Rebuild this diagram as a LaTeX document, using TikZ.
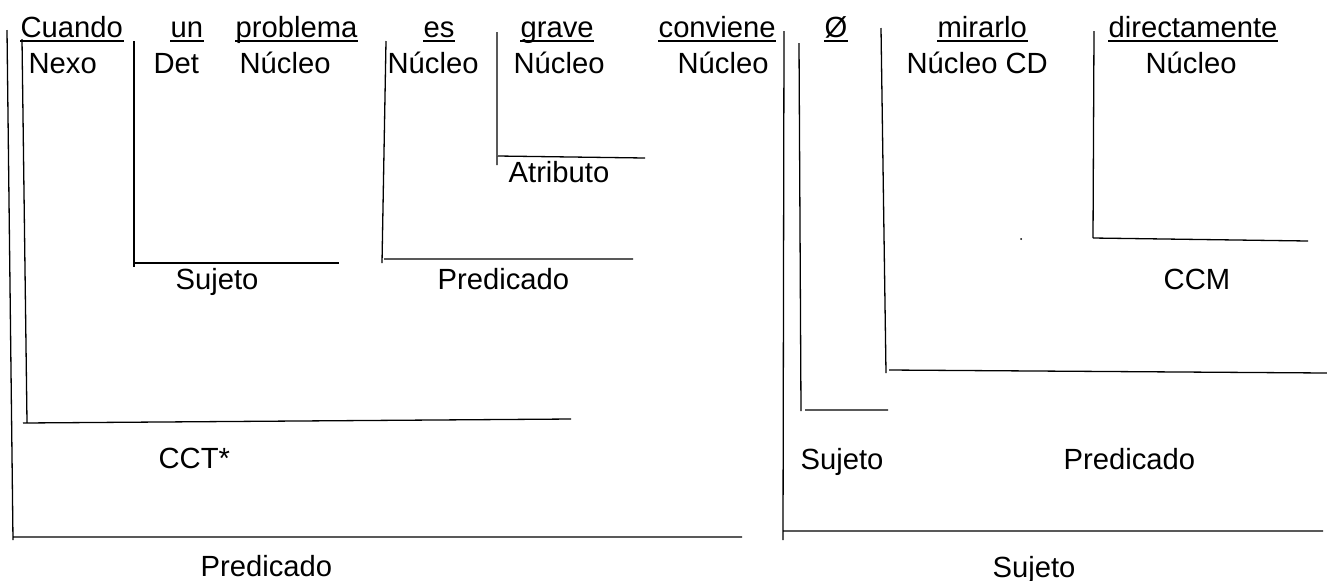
\documentclass[tikz,border=0pt]{standalone}
\usepackage{fontspec}
\setmainfont{Liberation Sans}
\begin{document}
\begin{tikzpicture}[x=0.5pt,y=-0.5pt,line width=0.65pt,
    every node/.style={inner sep=0pt,anchor=base west,font=\fontsize{14.6}{17}\selectfont},
    uline/.style={line width=1pt}]
  \useasboundingbox (0,0) rectangle (1327,580);
  % words of the sentence
  \foreach \x/\t/\n in {
      20/Cuando/cuando, 170/un/un, 235/problema/problema, 423/es/es,
      520/grave/grave, 658/conviene/conviene, 824/Ø/vacio,
      937/mirarlo/mirarlo, 1108/directamente/directamente}
    \node (\n) at (\x,37) {\t};
  \foreach \n in {cuando,un,problema,es,grave,conviene,vacio,mirarlo,directamente}
    \draw[uline] ([yshift=-2pt]\n.base west) -- ([yshift=-2pt]\n.base east);
  % functions of the words
  \foreach \x/\t/\n in {
      28/Nexo/nexo, 153/Det/det, 239/Núcleo/nucA, 387/Núcleo/nucB,
      513/Núcleo/nucC, 677/Núcleo/nucD, 906/Núcleo CD/nucE, 1145/Núcleo/nucF}
    \node (\n) at (\x,73) {\t};
  % brackets
  \draw (7,30) -- (13,540) (13,537) -- (742,537);
  \draw (22,39) -- (27,422) (23,423) -- (571,419);
  \draw (134,41) -- (134,267) (135,263) -- (339,263);
  \draw (386,41) -- (382,263) (384,259) -- (633,259);
  \draw (497,32) -- (497,165) (498,156) -- (645,158);
  \draw (784,31) -- (783,540) (783,531) -- (1323,531);
  \draw (799,43) -- (801,411) (805,410) -- (888,410);
  \draw (881,28) -- (886,373) (889,370) -- (1327,373);
  \draw (1094,31) -- (1093,238) (1093,238) -- (1308,241);
  \fill (1021,239) circle (0.5pt);
  % groups
  \node (atributo) at (508,182) {Atributo};
  \node (sujA) at (175,289) {Sujeto};
  \node (predA) at (437,289) {Predicado};
  \node (ccm) at (1163,289) {CCM};
  \node (cct) at (158,468) {CCT*};
  \node (sujB) at (800,469) {Sujeto};
  \node (predB) at (1063,469) {Predicado};
  \node (predC) at (200,576) {Predicado};
  \node (sujC) at (992,577) {Sujeto};
\end{tikzpicture}
\end{document}
